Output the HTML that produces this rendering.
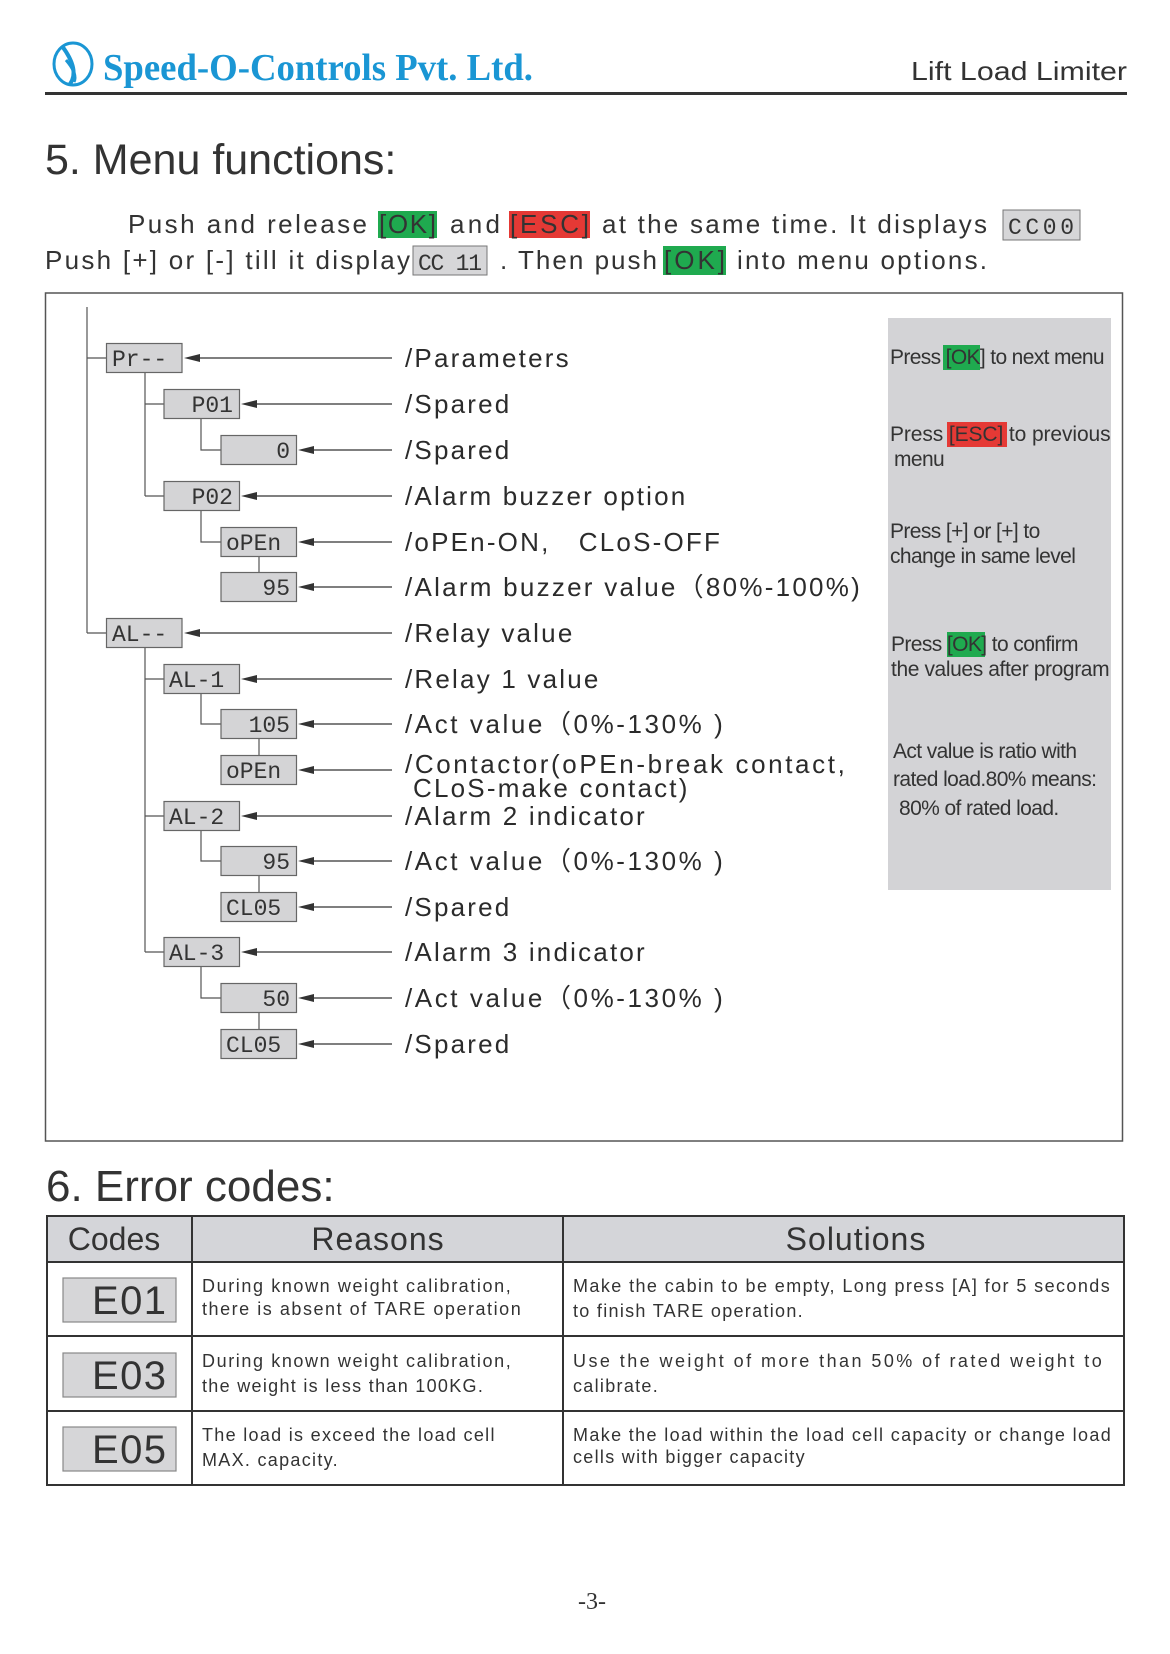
<!DOCTYPE html>
<html><head><meta charset="utf-8"><style>
html,body{margin:0;padding:0;background:#fff}
svg{display:block}
text{font-family:"Liberation Sans",sans-serif;fill:#333}
.lbl{font-size:26px;letter-spacing:2.2px;fill:#2b2b2b}
.seg{font-family:"Liberation Mono",monospace;font-size:23px;fill:#333}
.pn{font-size:21px;letter-spacing:-0.6px;fill:#333}
.tb{font-size:18px;letter-spacing:1.3px;fill:#333}
</style></head><body>
<svg width="1170" height="1654" viewBox="0 0 1170 1654" xmlns="http://www.w3.org/2000/svg">
<!-- header -->
<g fill="none" stroke="#1a96d4" stroke-width="3">
<ellipse cx="73" cy="64" rx="19" ry="21"/>
<path d="M62,46 Q80,70 70,84" stroke-width="4"/>
<path d="M66,60 Q78,74 74,82"/>
</g>
<text x="103" y="80" font-weight="bold" font-size="38" textLength="430" lengthAdjust="spacingAndGlyphs" style="fill:#1a96d4;font-family:'Liberation Serif',serif">Speed-O-Controls Pvt. Ltd.</text>
<text x="911" y="80" font-size="26" textLength="216" lengthAdjust="spacingAndGlyphs" style="fill:#333">Lift Load Limiter</text>
<rect x="45" y="92" width="1082" height="3" fill="#333"/>

<text x="45" y="174" font-size="43" style="fill:#333">5. Menu functions:</text>
<!-- paragraph -->
<rect x="378" y="211" width="59" height="27" fill="#1faa4f"/>
<rect x="509" y="211" width="81" height="27" fill="#e53935"/>
<rect x="1003" y="210" width="77" height="30" fill="#d6d6d8" stroke="#777"/>
<rect x="413" y="246" width="74" height="29" fill="#d6d6d8" stroke="#777"/>
<rect x="663" y="246" width="63" height="29" fill="#1faa4f"/>
<g font-size="26">
<text x="128" y="233" textLength="239">Push and release</text>
<text x="379" y="233" textLength="57">[OK]</text>
<text x="450" y="233" textLength="50">and</text>
<text x="510" y="233" textLength="79">[ESC]</text>
<text x="602" y="233" textLength="385">at the same time. It displays</text>
<text x="45" y="269" textLength="365">Push [+] or [-] till it display</text>
<text x="500" y="269" textLength="157">. Then push</text>
<text x="664" y="269" textLength="61">[OK]</text>
<text x="737" y="269" textLength="250">into menu options.</text>
</g>
<text x="1008" y="234" class="seg" textLength="66">CC00</text>
<text x="418" y="270" class="seg" textLength="64">CC 11</text>

<!-- diagram box -->
<rect x="45.5" y="293" width="1077" height="848" fill="none" stroke="#555" stroke-width="1.5"/>
<rect x="888" y="318" width="223" height="572" fill="#d3d3d6"/>
<rect x="943" y="345" width="37" height="25" fill="#1faa4f"/>
<rect x="947" y="422" width="60" height="25" fill="#e53935"/>
<rect x="947" y="632" width="38" height="25" fill="#1faa4f"/>
<text class="pn" x="890" y="364" textLength="214">Press [OK]  to next menu</text>
<text class="pn" x="890" y="441" textLength="220">Press [ESC] to previous</text>
<text class="pn" x="894" y="466">menu</text>
<text class="pn" x="890" y="538">Press [+] or [+] to</text>
<text class="pn" x="890" y="563">change in same level</text>
<text class="pn" x="891" y="651">Press [OK] to confirm</text>
<text class="pn" x="891" y="676" textLength="218">the values after program</text>
<text class="pn" x="893" y="758">Act value is ratio with</text>
<text class="pn" x="893" y="786">rated load.80% means:</text>
<text class="pn" x="899" y="815">80% of rated load.</text>

<!-- tree connectors -->
<g stroke="#555" stroke-width="1.2" fill="none">
<path d="M87,307 V633 M87,358 H106 M87,633 H106"/>
<path d="M145,373 V496 M145,404 H164 M145,496 H164"/>
<path d="M201,419 V450 H221 M201,511 V542 H221 M259,557 V573"/>
<path d="M145,648 V952 M145,679 H164 M145,816 H164 M145,952 H164"/>
<path d="M201,694 V724 H221 M259,739 V756"/>
<path d="M201,831 V861 H221 M259,876 V893"/>
<path d="M201,967 V998 H221 M259,1013 V1030"/>
</g>
<!-- arrows -->
<g stroke="#333" stroke-width="1.3">
<line x1="392" y1="358" x2="196" y2="358"/>
<line x1="392" y1="404" x2="253" y2="404"/>
<line x1="392" y1="450" x2="310" y2="450"/>
<line x1="392" y1="496" x2="253" y2="496"/>
<line x1="392" y1="542" x2="310" y2="542"/>
<line x1="392" y1="587" x2="310" y2="587"/>
<line x1="392" y1="633" x2="196" y2="633"/>
<line x1="392" y1="679" x2="253" y2="679"/>
<line x1="392" y1="724" x2="310" y2="724"/>
<line x1="392" y1="770" x2="310" y2="770"/>
<line x1="392" y1="816" x2="253" y2="816"/>
<line x1="392" y1="861" x2="310" y2="861"/>
<line x1="392" y1="907" x2="310" y2="907"/>
<line x1="392" y1="952" x2="253" y2="952"/>
<line x1="392" y1="998" x2="310" y2="998"/>
<line x1="392" y1="1044" x2="310" y2="1044"/>
</g>
<g fill="#333">
<path d="M184,358 l16,-4 v8z"/>
<path d="M241,404 l16,-4 v8z"/>
<path d="M298,450 l16,-4 v8z"/>
<path d="M241,496 l16,-4 v8z"/>
<path d="M298,542 l16,-4 v8z"/>
<path d="M298,587 l16,-4 v8z"/>
<path d="M184,633 l16,-4 v8z"/>
<path d="M241,679 l16,-4 v8z"/>
<path d="M298,724 l16,-4 v8z"/>
<path d="M298,770 l16,-4 v8z"/>
<path d="M241,816 l16,-4 v8z"/>
<path d="M298,861 l16,-4 v8z"/>
<path d="M298,907 l16,-4 v8z"/>
<path d="M241,952 l16,-4 v8z"/>
<path d="M298,998 l16,-4 v8z"/>
<path d="M298,1044 l16,-4 v8z"/>
</g>
<!-- boxes -->
<g fill="#d4d4d6" stroke="#666" stroke-width="1.2">
<rect x="106.5" y="343.5" width="75.5" height="29"/>
<rect x="164" y="389.5" width="75.5" height="29"/>
<rect x="221" y="435.5" width="75.5" height="29"/>
<rect x="164" y="481.5" width="75.5" height="29"/>
<rect x="221" y="527.5" width="75.5" height="29"/>
<rect x="221" y="572.5" width="75.5" height="29"/>
<rect x="106.5" y="618.5" width="75.5" height="29"/>
<rect x="164" y="664.5" width="75.5" height="29"/>
<rect x="221" y="709.5" width="75.5" height="29"/>
<rect x="221" y="755.5" width="75.5" height="29"/>
<rect x="164" y="801.5" width="75.5" height="29"/>
<rect x="221" y="846.5" width="75.5" height="29"/>
<rect x="221" y="892.5" width="75.5" height="29"/>
<rect x="164" y="937.5" width="75.5" height="29"/>
<rect x="221" y="983.5" width="75.5" height="29"/>
<rect x="221" y="1029.5" width="75.5" height="29"/>
</g>
<g>
<text class="seg" x="112" y="366">Pr--</text>
<text class="seg" x="233" y="412" text-anchor="end">P01</text>
<text class="seg" x="290" y="458" text-anchor="end">0</text>
<text class="seg" x="233" y="504" text-anchor="end">P02</text>
<text class="seg" x="226" y="550">oPEn</text>
<text class="seg" x="290" y="595" text-anchor="end">95</text>
<text class="seg" x="112" y="641">AL--</text>
<text class="seg" x="169" y="687">AL-1</text>
<text class="seg" x="290" y="732" text-anchor="end">105</text>
<text class="seg" x="226" y="778">oPEn</text>
<text class="seg" x="169" y="824">AL-2</text>
<text class="seg" x="290" y="869" text-anchor="end">95</text>
<text class="seg" x="226" y="915">CL05</text>
<text class="seg" x="169" y="960">AL-3</text>
<text class="seg" x="290" y="1006" text-anchor="end">50</text>
<text class="seg" x="226" y="1052">CL05</text>
</g>
<!-- labels -->
<text class="lbl" x="405" y="367">/Parameters</text>
<text class="lbl" x="405" y="413">/Spared</text>
<text class="lbl" x="405" y="459">/Spared</text>
<text class="lbl" x="405" y="505">/Alarm buzzer option</text>
<text class="lbl" x="405" y="551" xml:space="preserve">/oPEn-ON,   CLoS-OFF</text>
<text class="lbl" x="405" y="596" textLength="457">/Alarm buzzer value（80%-100%)</text>
<text class="lbl" x="405" y="642">/Relay value</text>
<text class="lbl" x="405" y="688">/Relay 1 value</text>
<text class="lbl" x="405" y="733" textLength="320">/Act value（0%-130% )</text>
<text class="lbl" x="405" y="773" textLength="442">/Contactor(oPEn-break contact,</text>
<text class="lbl" x="413" y="797">CLoS-make contact)</text>
<text class="lbl" x="405" y="825">/Alarm 2 indicator</text>
<text class="lbl" x="405" y="870" textLength="320">/Act value（0%-130% )</text>
<text class="lbl" x="405" y="916">/Spared</text>
<text class="lbl" x="405" y="961">/Alarm 3 indicator</text>
<text class="lbl" x="405" y="1007" textLength="320">/Act value（0%-130% )</text>
<text class="lbl" x="405" y="1053">/Spared</text>

<!-- section 6 -->
<text x="46" y="1201" font-size="44" style="fill:#333">6. Error codes:</text>
<rect x="47" y="1216" width="1077" height="46" fill="#d4d5d9"/>
<g stroke="#333" stroke-width="2" fill="none">
<rect x="47" y="1216" width="1077" height="269"/>
<line x1="47" y1="1262" x2="1124" y2="1262"/>
<line x1="47" y1="1336" x2="1124" y2="1336"/>
<line x1="47" y1="1411" x2="1124" y2="1411"/>
<line x1="192" y1="1216" x2="192" y2="1485"/>
<line x1="563" y1="1216" x2="563" y2="1485"/>
</g>
<text x="114" y="1250" font-size="32" text-anchor="middle" style="fill:#333">Codes</text>
<text x="378" y="1250" font-size="32" text-anchor="middle" style="fill:#333;letter-spacing:1px">Reasons</text>
<text x="856" y="1250" font-size="32" text-anchor="middle" style="fill:#333;letter-spacing:1px">Solutions</text>
<g fill="#d6d6d8" stroke="#888" stroke-width="1.2">
<rect x="63" y="1278" width="113" height="44"/>
<rect x="63" y="1353" width="113" height="44"/>
<rect x="63" y="1427" width="113" height="44"/>
</g>
<g font-size="40" style="fill:#333;font-family:'Liberation Mono',monospace">
<text x="92" y="1314" textLength="74">E01</text>
<text x="92" y="1389" textLength="74">E03</text>
<text x="92" y="1463" textLength="74">E05</text>
</g>
<text class="tb" x="202" y="1292" textLength="310">During known weight calibration,</text>
<text class="tb" x="202" y="1315" textLength="320">there is absent of TARE operation</text>
<text class="tb" x="202" y="1367" textLength="310">During known weight calibration,</text>
<text class="tb" x="202" y="1392">the weight is less than 100KG.</text>
<text class="tb" x="202" y="1441">The load is exceed the load cell</text>
<text class="tb" x="202" y="1466">MAX. capacity.</text>
<text class="tb" x="573" y="1292" textLength="538">Make the cabin to be empty, Long press [A] for 5 seconds</text>
<text class="tb" x="573" y="1317">to finish TARE operation.</text>
<text class="tb" x="573" y="1367" textLength="530" lengthAdjust="spacing">Use the weight of more than 50% of rated weight to</text>
<text class="tb" x="573" y="1392">calibrate.</text>
<text class="tb" x="573" y="1441" textLength="539">Make the load within the load cell capacity or change load</text>
<text class="tb" x="573" y="1463">cells with bigger capacity</text>

<text x="592" y="1609" font-size="24" text-anchor="middle" style="fill:#333;font-family:'Liberation Serif',serif">-3-</text>
</svg>
</body></html>
